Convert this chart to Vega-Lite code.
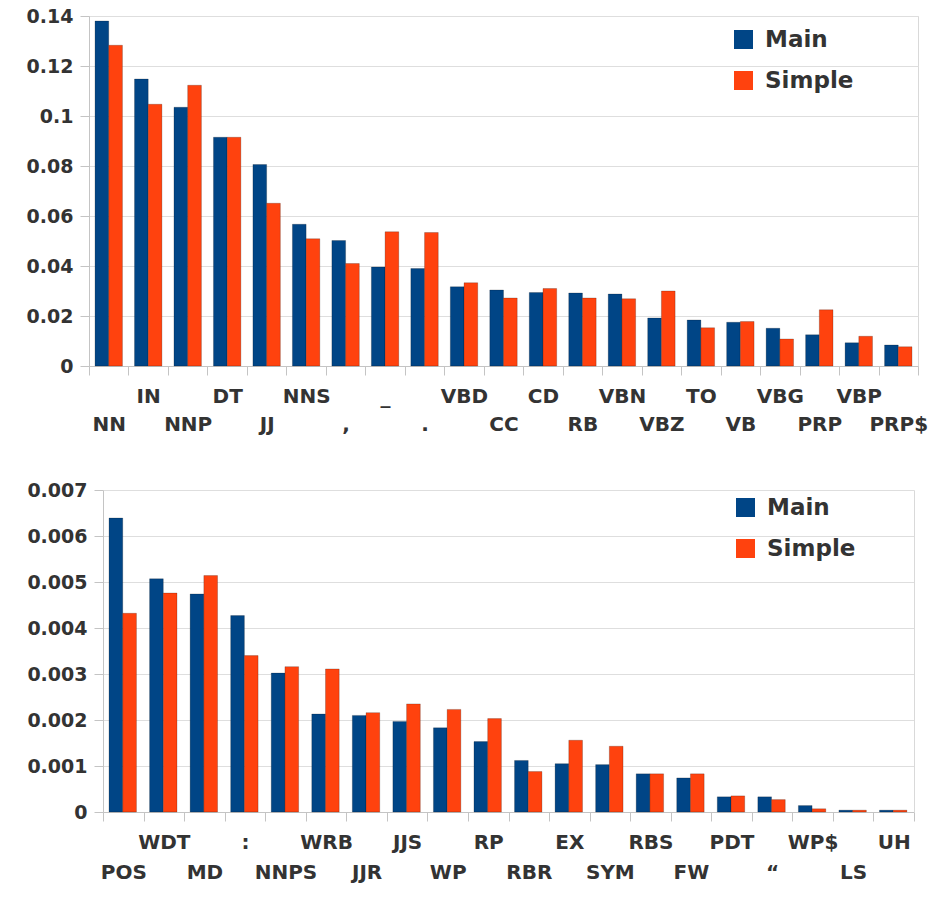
{
  "$schema": "https://vega.github.io/schema/vega-lite/v6.json",
  "padding": {"left": 25, "top": 6, "right": 5, "bottom": 5},
  "background": "white",
  "spacing": 46,
  "config": {
    "font": "DejaVu Sans",
    "view": {"stroke": "#d9d9d9"},
    "axis": {
      "labelFont": "DejaVu Sans",
      "labelFontWeight": "bold",
      "labelColor": "#333333",
      "title": null,
      "domainColor": "#c4c4c4",
      "tickColor": "#c4c4c4",
      "gridColor": "#dedede",
      "tickSize": 9
    },
    "legend": {
      "orient": "none",
      "title": null,
      "symbolType": "square",
      "symbolSize": 361,
      "symbolStrokeWidth": 0,
      "labelFont": "DejaVu Sans",
      "labelFontWeight": "bold",
      "labelFontSize": 23,
      "labelColor": "#333333",
      "labelOffset": 10,
      "rowPadding": 17
    }
  },
  "resolve": {"legend": {"color": "independent"}},
  "data": {
    "values": [
      {"p": "a", "tag": "NN", "s": "Main", "v": 0.138}, {"p": "a", "tag": "NN", "s": "Simple", "v": 0.1283},
      {"p": "a", "tag": "IN", "s": "Main", "v": 0.1148}, {"p": "a", "tag": "IN", "s": "Simple", "v": 0.1047},
      {"p": "a", "tag": "NNP", "s": "Main", "v": 0.1035}, {"p": "a", "tag": "NNP", "s": "Simple", "v": 0.1123},
      {"p": "a", "tag": "DT", "s": "Main", "v": 0.0915}, {"p": "a", "tag": "DT", "s": "Simple", "v": 0.0915},
      {"p": "a", "tag": "JJ", "s": "Main", "v": 0.0806}, {"p": "a", "tag": "JJ", "s": "Simple", "v": 0.0651},
      {"p": "a", "tag": "NNS", "s": "Main", "v": 0.0567}, {"p": "a", "tag": "NNS", "s": "Simple", "v": 0.0509},
      {"p": "a", "tag": ",", "s": "Main", "v": 0.0502}, {"p": "a", "tag": ",", "s": "Simple", "v": 0.041},
      {"p": "a", "tag": "_", "s": "Main", "v": 0.0396}, {"p": "a", "tag": "_", "s": "Simple", "v": 0.0537},
      {"p": "a", "tag": ".", "s": "Main", "v": 0.039}, {"p": "a", "tag": ".", "s": "Simple", "v": 0.0534},
      {"p": "a", "tag": "VBD", "s": "Main", "v": 0.0317}, {"p": "a", "tag": "VBD", "s": "Simple", "v": 0.0333},
      {"p": "a", "tag": "CC", "s": "Main", "v": 0.0304}, {"p": "a", "tag": "CC", "s": "Simple", "v": 0.0272},
      {"p": "a", "tag": "CD", "s": "Main", "v": 0.0294}, {"p": "a", "tag": "CD", "s": "Simple", "v": 0.031},
      {"p": "a", "tag": "RB", "s": "Main", "v": 0.0292}, {"p": "a", "tag": "RB", "s": "Simple", "v": 0.0272},
      {"p": "a", "tag": "VBN", "s": "Main", "v": 0.0288}, {"p": "a", "tag": "VBN", "s": "Simple", "v": 0.0269},
      {"p": "a", "tag": "VBZ", "s": "Main", "v": 0.0192}, {"p": "a", "tag": "VBZ", "s": "Simple", "v": 0.03},
      {"p": "a", "tag": "TO", "s": "Main", "v": 0.0184}, {"p": "a", "tag": "TO", "s": "Simple", "v": 0.0153},
      {"p": "a", "tag": "VB", "s": "Main", "v": 0.0175}, {"p": "a", "tag": "VB", "s": "Simple", "v": 0.0178},
      {"p": "a", "tag": "VBG", "s": "Main", "v": 0.0151}, {"p": "a", "tag": "VBG", "s": "Simple", "v": 0.0108},
      {"p": "a", "tag": "PRP", "s": "Main", "v": 0.0125}, {"p": "a", "tag": "PRP", "s": "Simple", "v": 0.0225},
      {"p": "a", "tag": "VBP", "s": "Main", "v": 0.0093}, {"p": "a", "tag": "VBP", "s": "Simple", "v": 0.0119},
      {"p": "a", "tag": "PRP$", "s": "Main", "v": 0.0084}, {"p": "a", "tag": "PRP$", "s": "Simple", "v": 0.0077},
      {"p": "b", "tag": "POS", "s": "Main", "v": 0.00639}, {"p": "b", "tag": "POS", "s": "Simple", "v": 0.00432},
      {"p": "b", "tag": "WDT", "s": "Main", "v": 0.00507}, {"p": "b", "tag": "WDT", "s": "Simple", "v": 0.00476},
      {"p": "b", "tag": "MD", "s": "Main", "v": 0.00474}, {"p": "b", "tag": "MD", "s": "Simple", "v": 0.00514},
      {"p": "b", "tag": ":", "s": "Main", "v": 0.00427}, {"p": "b", "tag": ":", "s": "Simple", "v": 0.0034},
      {"p": "b", "tag": "NNPS", "s": "Main", "v": 0.00302}, {"p": "b", "tag": "NNPS", "s": "Simple", "v": 0.00316},
      {"p": "b", "tag": "WRB", "s": "Main", "v": 0.00213}, {"p": "b", "tag": "WRB", "s": "Simple", "v": 0.00311},
      {"p": "b", "tag": "JJR", "s": "Main", "v": 0.0021}, {"p": "b", "tag": "JJR", "s": "Simple", "v": 0.00216},
      {"p": "b", "tag": "JJS", "s": "Main", "v": 0.00197}, {"p": "b", "tag": "JJS", "s": "Simple", "v": 0.00235},
      {"p": "b", "tag": "WP", "s": "Main", "v": 0.00183}, {"p": "b", "tag": "WP", "s": "Simple", "v": 0.00223},
      {"p": "b", "tag": "RP", "s": "Main", "v": 0.00153}, {"p": "b", "tag": "RP", "s": "Simple", "v": 0.00203},
      {"p": "b", "tag": "RBR", "s": "Main", "v": 0.00112}, {"p": "b", "tag": "RBR", "s": "Simple", "v": 0.00088},
      {"p": "b", "tag": "EX", "s": "Main", "v": 0.00105}, {"p": "b", "tag": "EX", "s": "Simple", "v": 0.00156},
      {"p": "b", "tag": "SYM", "s": "Main", "v": 0.00103}, {"p": "b", "tag": "SYM", "s": "Simple", "v": 0.00143},
      {"p": "b", "tag": "RBS", "s": "Main", "v": 0.00083}, {"p": "b", "tag": "RBS", "s": "Simple", "v": 0.00083},
      {"p": "b", "tag": "FW", "s": "Main", "v": 0.00074}, {"p": "b", "tag": "FW", "s": "Simple", "v": 0.00083},
      {"p": "b", "tag": "PDT", "s": "Main", "v": 0.00033}, {"p": "b", "tag": "PDT", "s": "Simple", "v": 0.00035},
      {"p": "b", "tag": "“", "s": "Main", "v": 0.00033}, {"p": "b", "tag": "“", "s": "Simple", "v": 0.00027},
      {"p": "b", "tag": "WP$", "s": "Main", "v": 0.00014}, {"p": "b", "tag": "WP$", "s": "Simple", "v": 0.00007},
      {"p": "b", "tag": "LS", "s": "Main", "v": 0.00004}, {"p": "b", "tag": "LS", "s": "Simple", "v": 0.00004},
      {"p": "b", "tag": "UH", "s": "Main", "v": 0.00004}, {"p": "b", "tag": "UH", "s": "Simple", "v": 0.00004}
    ]
  },
  "vconcat": [
    {
      "width": 829,
      "height": 350,
      "transform": [{"filter": "datum.p == 'a'"}],
      "mark": {"type": "bar", "stroke": "#000000", "strokeOpacity": 0.3, "strokeWidth": 0.7},
      "encoding": {
        "x": {
          "field": "tag", "type": "nominal", "sort": null,
          "scale": {"paddingInner": 0, "paddingOuter": 0},
          "axis": {
            "labelAngle": 0, "labelFontSize": 20, "tickBand": "extent",
            "labelPadding": {"condition": {"test": "indexof(['IN','DT','NNS','_','VBD','CD','VBN','TO','VBG','VBP'], datum.value) >= 0", "value": 11}, "value": 39},
            "labelOverlap": false
          }
        },
        "xOffset": {"field": "s", "type": "nominal", "sort": ["Main", "Simple"], "scale": {"paddingOuter": 0.44}},
        "y": {
          "field": "v", "type": "quantitative",
          "scale": {"domain": [0, 0.14], "nice": false},
          "axis": {"values": [0, 0.02, 0.04, 0.06, 0.08, 0.1, 0.12, 0.14], "format": "~g", "labelFontSize": 19, "labelPadding": 7}
        },
        "color": {
          "field": "s", "type": "nominal",
          "scale": {"domain": ["Main", "Simple"], "range": ["#004586", "#ff420e"]},
          "legend": {"legendX": 643, "legendY": 12}
        }
      }
    },
    {
      "width": 825,
      "height": 322,
      "view": {"stroke": null},
      "transform": [{"filter": "datum.p == 'b'"}],
      "resolve": {"axis": {"y": "independent"}},
      "layer": [
        {
          "mark": {"type": "bar", "stroke": "#000000", "strokeOpacity": 0.3, "strokeWidth": 0.7},
          "encoding": {
            "x": {
              "field": "tag", "type": "nominal", "sort": null,
              "scale": {"paddingInner": 0, "paddingOuter": 0, "range": [14, 825]},
              "axis": {
                "labelAngle": 0, "labelFontSize": 20, "tickBand": "extent",
                "labelPadding": {"condition": {"test": "indexof(['WDT',':','WRB','JJS','RP','EX','RBS','PDT','WP$','UH'], datum.value) >= 0", "value": 11}, "value": 41},
                "labelOverlap": false
              }
            },
            "xOffset": {"field": "s", "type": "nominal", "sort": ["Main", "Simple"], "scale": {"paddingOuter": 0.46}},
            "y": {
              "field": "v", "type": "quantitative",
              "scale": {"domain": [0, 0.007], "nice": false},
              "axis": {"values": [0, 0.001, 0.002, 0.003, 0.004, 0.005, 0.006, 0.007], "format": "~g", "labelFontSize": 19, "labelPadding": 7, "offset": -14}
            },
            "color": {
              "field": "s", "type": "nominal",
              "scale": {"domain": ["Main", "Simple"], "range": ["#004586", "#ff420e"]},
              "legend": {"legendX": 645, "legendY": 6}
            }
          }
        },
        {
          "mark": {"type": "point", "opacity": 0},
          "encoding": {
            "x": {"field": "tag", "type": "nominal", "sort": null},
            "y": {
              "field": "v", "type": "quantitative",
              "axis": {"orient": "right", "labels": false, "ticks": false, "grid": false, "domain": true, "domainColor": "#d9d9d9"}
            }
          }
        }
      ]
    }
  ]
}
